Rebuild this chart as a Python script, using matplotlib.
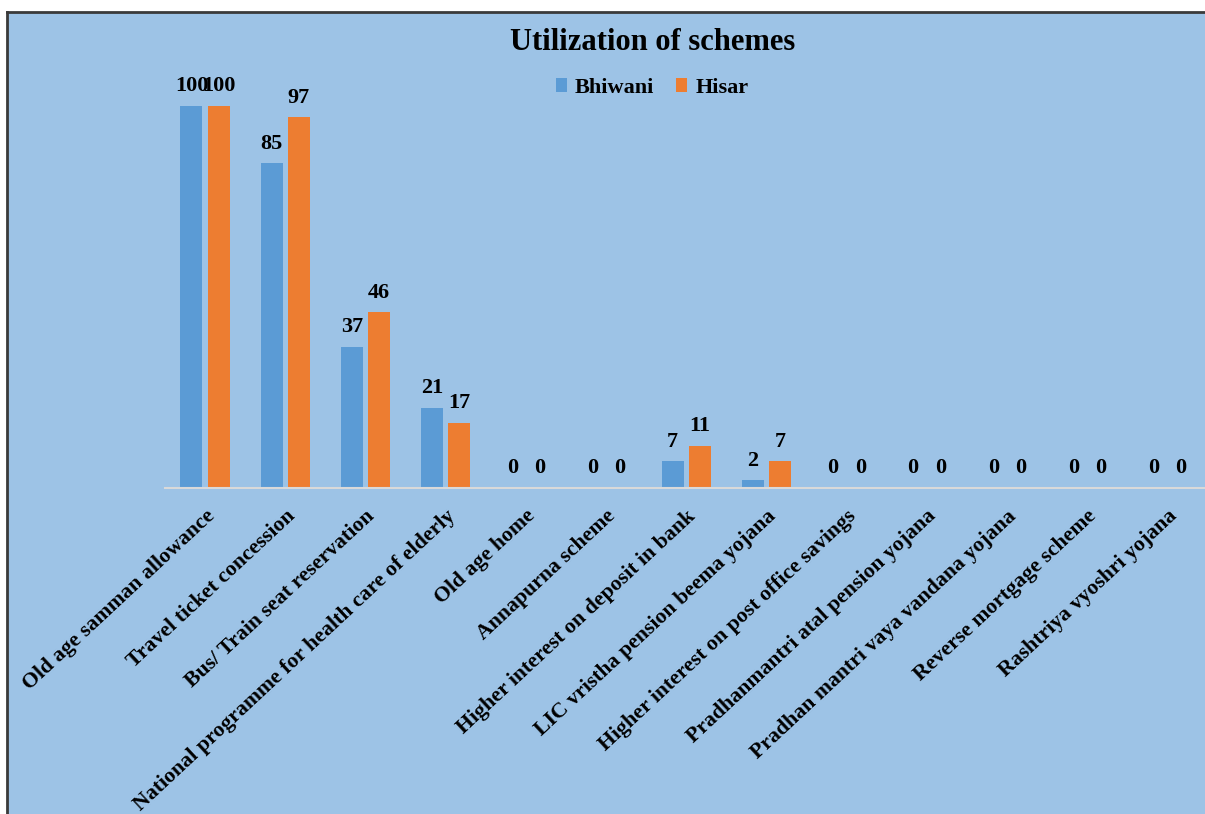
import numpy as np
import matplotlib.pyplot as plt
from matplotlib.patches import Rectangle
from matplotlib.lines import Line2D

schemes = ['Old age samman allowance', 'Travel ticket concession',
           'Bus/ Train seat reservation',
           'National programme for health care of elderly', 'Old age home',
           'Annapurna scheme', 'Higher interest on deposit in bank',
           'LIC vristha pension beema yojana',
           'Higher interest on post office savings',
           'Pradhanmantri atal pension yojana',
           'Pradhan mantri vaya vandana yojana', 'Reverse mortgage scheme',
           'Rashtriya vyoshri yojana']
bhiwani = [100, 85, 37, 21, 0, 0, 7, 2, 0, 0, 0, 0, 0]
hisar = [100, 97, 46, 17, 0, 0, 11, 7, 0, 0, 0, 0, 0]

bg = '#9DC3E6'
plt.rcParams['font.family'] = ['Liberation Serif', 'DejaVu Serif']
plt.rcParams['font.weight'] = 'bold'

W, H = 1205, 814
fig = plt.figure(figsize=(W / 100, H / 100), dpi=100, facecolor='white')

# chart area background and its border
fig.patches.append(Rectangle((7 / W, 0), 1 - 7 / W, 1 - 12 / H, transform=fig.transFigure,
                             facecolor=bg, edgecolor='none', zorder=-10))
fig.lines.append(Line2D([7 / W, 1], [1 - 12 / H, 1 - 12 / H], transform=fig.transFigure,
                        color='#3a3a3a', lw=2, zorder=-5))
fig.lines.append(Line2D([7 / W, 7 / W], [0, 1 - 12 / H], transform=fig.transFigure,
                        color='#3a3a3a', lw=2, zorder=-5))

ax = fig.add_axes([165 / W, 326 / H, 1 - 165 / W, (488 - 29.6) / H])
ax.set_zorder(2)
ax.set_facecolor('none')
x = np.arange(len(schemes))
w = 0.275
b1 = ax.bar(x - 0.17, bhiwani, w, color='#5B9BD5', label='Bhiwani')
b2 = ax.bar(x + 0.17, hisar, w, color='#ED7D31', label='Hisar')
for bars, vals in ((b1, bhiwani), (b2, hisar)):
    for rect, v in zip(bars, vals):
        ax.annotate(str(v), (rect.get_x() + rect.get_width() / 2, v),
                    xytext=(0, 7), textcoords='offset points',
                    ha='center', va='bottom', fontsize=16, fontweight='bold')

ax.set_xlim(-0.5, 12.47)
ax.set_ylim(0, 120)
for s in ['top', 'right', 'left']:
    ax.spines[s].set_visible(False)
ax.spines['bottom'].set_color('#D9D9D9')
ax.spines['bottom'].set_linewidth(1.5)
ax.set_yticks([])
ax.set_xticks(x)
ax.set_xticklabels(schemes, rotation=43, ha='right', rotation_mode='anchor',
                   fontsize=15.7, fontweight='bold')
ax.tick_params(axis='x', length=0, pad=13)

fig.text(653 / W, 1 - 42 / H, 'Utilization of schemes', ha='center', va='center',
         fontsize=22, fontweight='bold')
fig.legend(handles=[b1, b2], labels=['Bhiwani', 'Hisar'], loc='center',
           bbox_to_anchor=(652 / W, 1 - 88 / H), ncol=2, frameon=False,
           fontsize=16, handlelength=0.5, handleheight=0.55, handletextpad=0.35,
           columnspacing=1.0)

fig.savefig('out.png', dpi=100, facecolor='white')
